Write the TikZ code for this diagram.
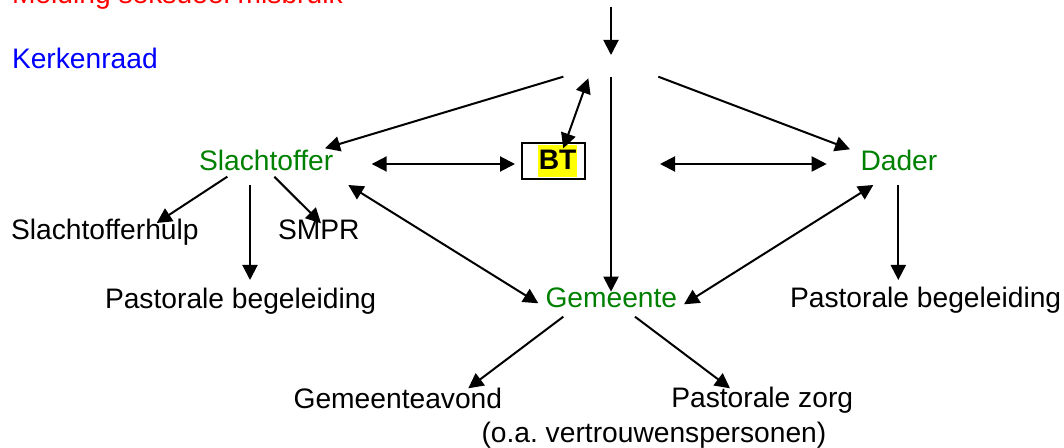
\documentclass[tikz,border=0pt]{standalone}
\usepackage{fontspec}
\setmainfont{Liberation Sans}
\usetikzlibrary{arrows.meta}
\frenchspacing
\definecolor{kred}{HTML}{FF0000}
\definecolor{kblue}{HTML}{0000FF}
\definecolor{kgreen}{HTML}{008000}
\definecolor{kyellow}{HTML}{FFFF00}
\tikzset{
  lbl/.style={anchor=base west, inner sep=0pt, outer sep=0pt, font=\fontsize{14.1}{16}\selectfont},
  grn/.style={lbl, text=kgreen},
  conn/.style={line width=1pt, -{Triangle[length=7.5pt,width=7.5pt]}},
  dconn/.style={line width=1pt, {Triangle[length=7.5pt,width=7.5pt]}-{Triangle[length=7.5pt,width=7.5pt]}},
  plain/.style={line width=1pt}
}
\begin{document}
\begin{tikzpicture}[x=0.5pt,y=-0.5pt]
\useasboundingbox (0,0) rectangle (1064,448);
% texts
\node[lbl, text=kred] (meld) at (12,3.5) {Melding seksueel misbruik};
\node[lbl, text=kblue] (kerk) at (12,69) {Kerkenraad};
\node[grn] (slacht) at (199,170.5) {Slachtoffer};
\node[grn] (dader) at (860.5,170.5) {Dader};
\node[grn] (gem) at (545.5,307) {Gemeente};
\node[lbl] (shulp) at (11,239.3) {Slachtofferhulp};
\node[lbl] (smpr) at (278,239.3) {SMPR};
\node[lbl] (pbl) at (105,308) {Pastorale begeleiding};
\node[lbl] (pbr) at (790,307) {Pastorale begeleiding};
\node[lbl] (gavond) at (293.6,408) {Gemeenteavond};
\node[lbl] (pzorg) at (671.3,407) {Pastorale zorg};
\node[lbl] (oa) at (481.5,442) {(o.a. vertrouwenspersonen)};
% BT box
\node[draw, line width=1pt, minimum width=31.7pt, minimum height=17.8pt, inner sep=0pt] (bt) at (553.35,161.15) {};
\fill[kyellow] (538.3,145) rectangle (577.3,177.3);
\node[lbl, font=\fontsize{14.1}{16}\selectfont\bfseries] (bttext) at (538.8,170) {BT};
% connector end points
\coordinate (top0) at (611,6.7);
\coordinate (hub) at (611,55);
\coordinate (hubS) at (563.3,76.7);
\coordinate (hubB) at (588.3,78.3);
\coordinate (hubV) at (611,76.7);
\coordinate (hubD) at (658.3,76.7);
\coordinate (slachtN) at (325,148.3);
\coordinate (btN) at (563.3,148.3);
\coordinate (gemN) at (611,291.7);
\coordinate (daderN) at (850,149.3);
\coordinate (slachtE) at (371.7,164);
\coordinate (btW) at (515,164);
\coordinate (vE) at (660,164);
\coordinate (daderW) at (826.7,164);
\coordinate (slachtSW) at (227.3,176.7);
\coordinate (shulpN) at (156.7,223);
\coordinate (slachtS) at (250,185);
\coordinate (pblN) at (250,280);
\coordinate (slachtSE) at (274.3,176.7);
\coordinate (smprN) at (321,223.3);
\coordinate (slachtSEE) at (348.3,185);
\coordinate (gemW) at (538.3,303.3);
\coordinate (daderS) at (898.3,185);
\coordinate (pbrN) at (898.3,280);
\coordinate (daderSW) at (873.3,185);
\coordinate (gemE) at (684,304.3);
\coordinate (gemSW) at (563.3,316.7);
\coordinate (gavondN) at (468.3,388.3);
\coordinate (gemSE) at (635,316.7);
\coordinate (pzorgN) at (730,388.3);
% connectors
\draw[conn] (top0) -- (hub);
\draw[conn] (hubS) -- (slachtN);
\draw[dconn] (hubB) -- (btN);
\draw[conn] (hubV) -- (gemN);
\draw[conn] (hubD) -- (daderN);
\draw[dconn] (slachtE) -- (btW);
\draw[dconn] (vE) -- (daderW);
\draw[conn] (slachtSW) -- (shulpN);
\draw[conn] (slachtS) -- (pblN);
\draw[conn] (slachtSE) -- (smprN);
\draw[dconn] (slachtSEE) -- (gemW);
\draw[conn] (daderS) -- (pbrN);
\draw[dconn] (daderSW) -- (gemE);
\draw[conn] (gemSW) -- (gavondN);
\draw[conn] (gemSE) -- (pzorgN);
\end{tikzpicture}
\end{document}
